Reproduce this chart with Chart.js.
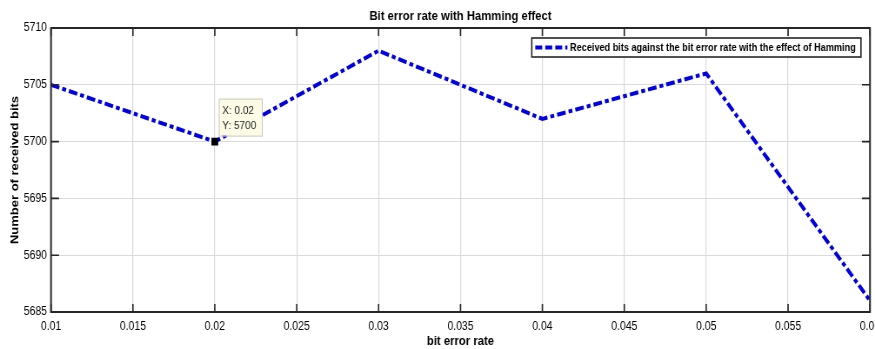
<!DOCTYPE html>
<html>
<head>
<meta charset="utf-8">
<title>Bit error rate with Hamming effect</title>
<script src="https://cdn.jsdelivr.net/npm/chart.js@4.4.0/dist/chart.umd.min.js"></script>
<style>
    html, body { margin: 0; padding: 0; background: #fff; overflow: hidden; }
    #wrap { width: 875px; height: 349px; overflow: hidden; }
    /* the original figure is squeezed horizontally, so the canvas is drawn wider and scaled down */
    #squeeze { width: 1006px; height: 349px; transform: scaleX(0.86978); transform-origin: 0 0; }
</style>
</head>
<body>
<div id="wrap"><div id="squeeze"><canvas id="berChart" width="1006" height="349"></canvas></div></div>
<script>
// data
const berValues = [0.01, 0.02, 0.03, 0.04, 0.05, 0.06];
const receivedBits = [5705, 5700, 5708, 5702, 5706, 5686];
const xTickValues = [0.01, 0.015, 0.02, 0.025, 0.03, 0.035, 0.04, 0.045, 0.05, 0.055, 0.06];
const xTickLabels = ['0.01', '0.015', '0.02', '0.025', '0.03', '0.035', '0.04', '0.045', '0.05', '0.055', '0.06'];
const yTickValues = [5685, 5690, 5695, 5700, 5705, 5710];
const yTickLabels = ['5685', '5690', '5695', '5700', '5705', '5710'];
const seriesLabel = 'Received bits against the bit error rate with the effect of Hamming';
const tipIndex = 1; // data tip on 0.02

const FONT = '"Liberation Sans", Arial, Helvetica, sans-serif';
const LINE_BLUE = '#0000e0';
const AXIS_DARK = '#262626';
const SX = 875 / 1006; // horizontal squeeze

// MATLAB style box, inward ticks, legend box and data tip
const matlabDecor = {
    id: 'matlabDecor',
    afterDraw(chart) {
        const ctx = chart.ctx;
        const a = chart.chartArea;
        const xs = chart.scales.x;
        const ys = chart.scales.y;

        ctx.save();
        ctx.strokeStyle = AXIS_DARK;
        ctx.lineWidth = 1.6;
        ctx.beginPath();
        xTickValues.forEach(v => {
            const px = xs.getPixelForValue(v);
            ctx.moveTo(px, a.bottom); ctx.lineTo(px, a.bottom - 8);
            ctx.moveTo(px, a.top); ctx.lineTo(px, a.top + 8);
        });
        yTickValues.forEach(v => {
            const py = ys.getPixelForValue(v);
            ctx.moveTo(a.left, py); ctx.lineTo(a.left + 8 / SX, py);
            ctx.moveTo(a.right, py); ctx.lineTo(a.right - 8 / SX, py);
        });
        ctx.stroke();
        ctx.lineWidth = 2;
        ctx.strokeRect(a.left, a.top, a.right - a.left, a.bottom - a.top);

        // legend
        ctx.font = 'bold 10.5px ' + FONT;
        const tw = ctx.measureText(seriesLabel).width;
        const boxH = 19;
        const boxR = a.right - 9 / SX;
        const boxW = 44 + tw + 6;
        const boxL = boxR - boxW;
        const boxT = a.top + 10;
        ctx.fillStyle = '#fff';
        ctx.fillRect(boxL, boxT, boxW, boxH);
        ctx.lineWidth = 1.6;
        ctx.strokeStyle = AXIS_DARK;
        ctx.strokeRect(boxL, boxT, boxW, boxH);
        ctx.beginPath();
        ctx.strokeStyle = LINE_BLUE;
        ctx.lineWidth = 3.8;
        ctx.setLineDash([8, 3.5]);
        ctx.moveTo(boxL + 4, boxT + boxH / 2);
        ctx.lineTo(boxL + 41, boxT + boxH / 2);
        ctx.stroke();
        ctx.setLineDash([]);
        ctx.fillStyle = '#000';
        ctx.textBaseline = 'middle';
        ctx.textAlign = 'left';
        ctx.fillText(seriesLabel, boxL + 44, boxT + boxH / 2 + 0.5);

        // data tip
        const px = xs.getPixelForValue(berValues[tipIndex]);
        const py = ys.getPixelForValue(receivedBits[tipIndex]);
        const tipL = px + 4 / SX, tipT = py - 43, tipW = 43 / SX, tipH = 37;
        ctx.fillStyle = '#fbfbe6';
        ctx.fillRect(tipL, tipT, tipW, tipH);
        ctx.strokeStyle = '#c9c9b8';
        ctx.lineWidth = 1;
        ctx.strokeRect(tipL + 0.5, tipT + 0.5, tipW, tipH);
        ctx.fillStyle = '#262626';
        ctx.font = '11.5px ' + FONT;
        ctx.fillText('X: ' + xTickLabels[2], tipL + 4, tipT + 12);
        ctx.fillText('Y: ' + receivedBits[tipIndex], tipL + 4, tipT + 27);
        ctx.restore();
    }
};

const ctx = document.getElementById('berChart').getContext('2d');
new Chart(ctx, {
    type: 'line',
    data: {
        datasets: [{
            label: seriesLabel,
            data: berValues.map((v, i) => ({ x: v, y: receivedBits[i] })),
            borderColor: LINE_BLUE,
            borderWidth: 4,
            borderDash: [10, 3.5, 4.5, 3.5],
            fill: false,
            tension: 0,
            pointStyle: 'rect',
            pointRadius: receivedBits.map((v, i) => i === tipIndex ? 5.5 : 0),
            pointBackgroundColor: '#000',
            pointBorderColor: '#000',
            pointBorderWidth: 0
        }]
    },
    options: {
        responsive: false,
        animation: false,
        devicePixelRatio: 1,
        layout: { padding: { left: 0, right: 5.8, top: 0, bottom: 0 } },
        plugins: {
            legend: { display: false },
            tooltip: { enabled: false },
            title: {
                display: true,
                fullSize: false,
                text: 'Bit error rate with Hamming effect',
                color: '#000',
                font: { family: FONT, size: 13, weight: 'bold' },
                padding: { top: 8.7, bottom: 3.7 }
            }
        },
        scales: {
            x: {
                type: 'linear',
                min: 0.01,
                max: 0.06,
                afterBuildTicks: scale => { scale.ticks = xTickValues.map(v => ({ value: v })); },
                afterFit: scale => { scale.height = 37; scale.paddingLeft = 0; scale.paddingRight = 0; },
                grid: { color: '#dadada', lineWidth: 1.2, drawTicks: false },
                border: { display: false },
                ticks: {
                    autoSkip: false,
                    maxRotation: 0,
                    padding: 7.3,
                    color: '#000',
                    font: { family: FONT, size: 12 },
                    callback: (v, i) => xTickLabels[i]
                },
                title: {
                    display: true,
                    text: 'bit error rate',
                    color: '#000',
                    font: { family: FONT, size: 13, weight: 'bold' },
                    padding: { top: 0, bottom: 0 }
                }
            },
            y: {
                min: 5685,
                max: 5710,
                afterBuildTicks: scale => { scale.ticks = yTickValues.map(v => ({ value: v })); },
                afterFit: scale => { scale.width = 51 / SX; scale.paddingTop = 0; scale.paddingBottom = 0; },
                grid: { color: '#dadada', lineWidth: 1, drawTicks: false },
                border: { display: false },
                ticks: {
                    padding: 4.6,
                    color: '#000',
                    font: { family: FONT, size: 12 },
                    callback: (v, i) => yTickLabels[i]
                },
                title: {
                    display: true,
                    text: 'Number of received bits',
                    color: '#000',
                    font: { family: FONT, size: 13, weight: 'bold' },
                    padding: { top: 9.4, bottom: 0 }
                }
            }
        }
    },
    plugins: [matlabDecor]
});
</script>
</body>
</html>
